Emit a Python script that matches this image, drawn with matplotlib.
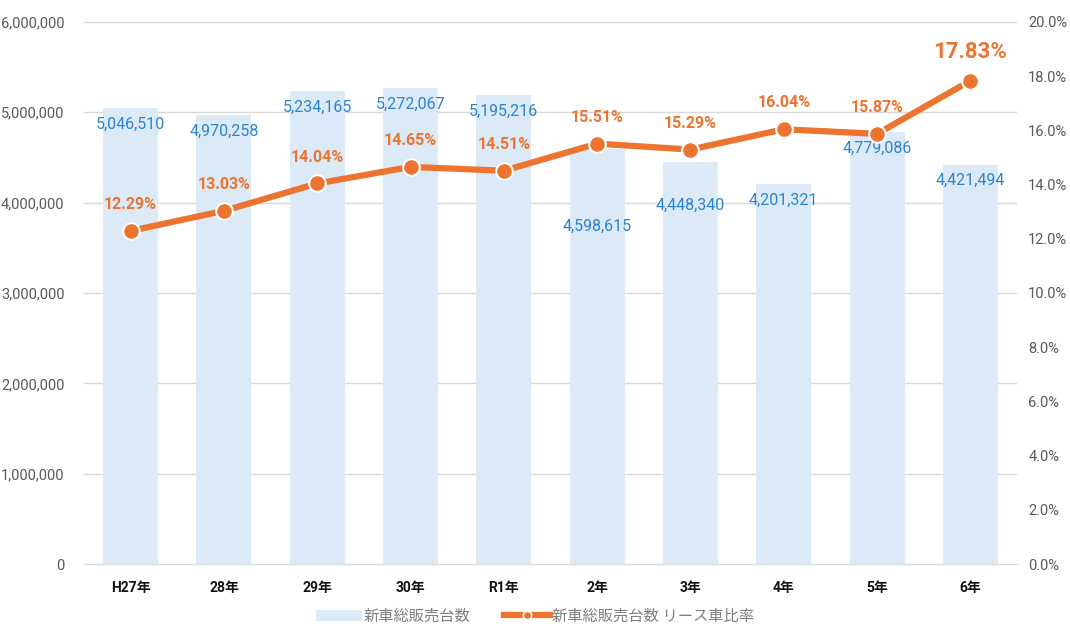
import numpy as np
import matplotlib
matplotlib.use("Agg")
import matplotlib.pyplot as plt
from matplotlib.ticker import FuncFormatter
from matplotlib.lines import Line2D

plt.rcParams['font.family'] = ['Roboto', 'Noto Sans CJK JP', 'DejaVu Sans']

years = ['H27年', '28年', '29年', '30年', 'R1年', '2年', '3年', '4年', '5年', '6年']
sales = [5046510, 4970258, 5234165, 5272067, 5195216, 4598615, 4448340, 4201321, 4779086, 4421494]
lease_rate = [12.29, 13.03, 14.04, 14.65, 14.51, 15.51, 15.29, 16.04, 15.87, 17.83]
# vertical offset (points) of the sales labels below the bar top
label_drop = [12, 12, 12, 12, 12, 56, 31, 11.5, 11.5, 11.5]

bar_color = '#dce9f6'
line_color = '#ec7430'
blue_text = '#2b84d0'

fig = plt.figure(figsize=(10.7, 6.26), dpi=100)
ax = fig.add_axes([0.0785, 0.099, 0.872, 0.866])
x = np.arange(len(years))

bars = ax.bar(x, sales, width=0.59, color=bar_color, zorder=2, label='新車総販売台数')
ax.set_ylim(0, 6000000)
ax.set_xlim(-0.5, len(years) - 0.5)
ax.set_yticks(np.arange(0, 6000001, 1000000))
ax.yaxis.set_major_formatter(FuncFormatter(lambda v, p: f'{int(v):,}'))
ax.grid(axis='y', color='#d9d9d9', linewidth=1, zorder=0)
ax.set_axisbelow(True)
for s in ['top', 'right', 'left']:
    ax.spines[s].set_visible(False)
ax.spines['bottom'].set_color('#d9d9d9')
ax.tick_params(axis='y', length=0, labelsize=10.5, labelcolor='#595959', pad=14)
ax.tick_params(axis='x', length=0, pad=12)
ax.set_xticks(x)
ax.set_xticklabels(years, fontsize=10, fontweight='bold', color='#111111')

for i, v in enumerate(sales):
    ax.annotate(f'{v:,}', (x[i], v), xytext=(0, -label_drop[i]), textcoords='offset points',
                ha='center', va='center', fontsize=11.5, color=blue_text, zorder=5)

ax2 = ax.twinx()
ax2.set_ylim(0, 20)
ax2.set_yticks(np.arange(0, 20.1, 2))
ax2.yaxis.set_major_formatter(FuncFormatter(lambda v, p: f'{v:.1f}%'))
ax2.tick_params(axis='y', length=0, labelsize=10.5, labelcolor='#595959', pad=8)
for s in ['top', 'right', 'left', 'bottom']:
    ax2.spines[s].set_visible(False)
ax2.plot(x, lease_rate, color=line_color, linewidth=4.5, marker='o', markersize=12,
         markerfacecolor=line_color, markeredgecolor='white', markeredgewidth=1.5,
         zorder=4, solid_capstyle='round')

for i, v in enumerate(lease_rate):
    big = i == len(lease_rate) - 1
    ax2.annotate(f'{v:.2f}%', (x[i], v), xytext=(0, 21 if big else 19), textcoords='offset points',
                 ha='center', va='center', fontsize=16 if big else 11.5, fontweight='bold',
                 color=line_color, zorder=6)

line_handle = Line2D([], [], color=line_color, linewidth=4.5, marker='o', markersize=6,
                     markerfacecolor=line_color, markeredgecolor='white', markeredgewidth=1.2)
leg = fig.legend([bars, line_handle], ['新車総販売台数', '新車総販売台数 リース車比率'],
                 loc='lower center', bbox_to_anchor=(0.5, -0.018), ncol=2, frameon=False,
                 fontsize=11, handlelength=3.0, columnspacing=2.2, handletextpad=0.1)
for t in leg.get_texts():
    t.set_color('#7f7f7f')

fig.savefig('out.png', dpi=100)
